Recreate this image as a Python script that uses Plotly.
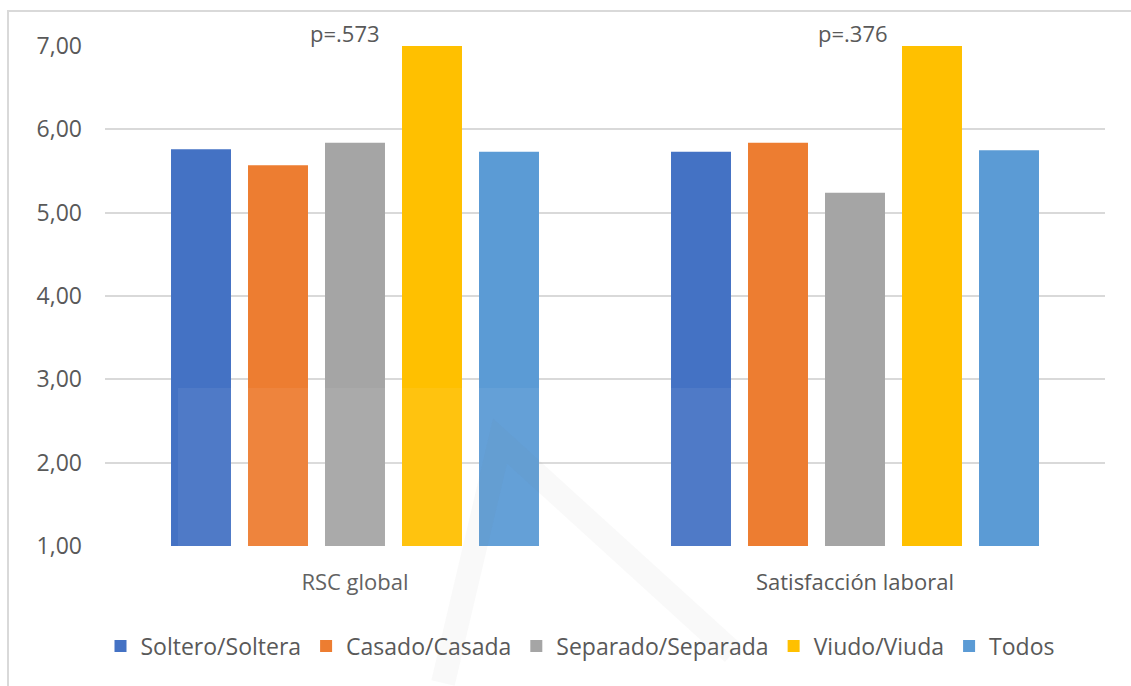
import plotly.graph_objects as go

# Grouped means by marital status for two indicators
categories = ["RSC global", "Satisfacción laboral"]
series_names = ["Soltero/Soltera", "Casado/Casada", "Separado/Separada", "Viudo/Viuda", "Todos"]
soltero = [5.76, 5.73]
casado = [5.57, 5.84]
separado = [5.84, 5.24]
viudo = [7.00, 7.00]
todos = [5.73, 5.75]
p_values = ["p=.573", "p=.376"]
y_ticks = [1, 2, 3, 4, 5, 6, 7]

series_values = [soltero, casado, separado, viudo, todos]
colors = ["#4472C4", "#ED7D31", "#A5A5A5", "#FFC000", "#5B9BD5"]

FONT = "Open Sans, Liberation Sans, sans-serif"
TEXT = "#595959"
GRID = "#D9D9D9"
BASE = 1.0

fig = go.Figure()
for name, vals, col in zip(series_names, series_values, colors):
    fig.add_trace(go.Bar(
        name=name,
        x=categories,
        y=[v - BASE for v in vals],
        base=BASE,
        marker=dict(color=col, line=dict(width=0)),
        hovertemplate="%{x}<br>" + name + ": %{customdata:.2f}<extra></extra>",
        customdata=vals,
    ))

# p-value labels above each group
for cat, ptxt, dx in zip(categories, p_values, [-10, -2]):
    fig.add_annotation(
        x=cat, y=7, xref="x", yref="y", text=ptxt, showarrow=False,
        yanchor="bottom", yshift=-4, xshift=dx,
        font=dict(family=FONT, size=22, color=TEXT),
    )

# Outer chart frame
fig.add_shape(type="rect", xref="paper", yref="paper",
              x0=-0.097, x1=1.04, y0=-0.33, y1=1.07,
              line=dict(color=GRID, width=2), fillcolor="rgba(0,0,0,0)", layer="below")

# Faint logo watermark in the lower area
fig.add_shape(type="rect", xref="paper", yref="paper",
              x0=0.073, x1=0.635, y0=0.316, y1=-0.30,
              line=dict(width=0), fillcolor="rgba(255,255,255,0.06)", layer="above")
fig.add_shape(type="path", xref="paper", yref="paper",
              path="M 0.338,-0.274 L 0.395,0.21 L 0.628,-0.214",
              line=dict(color="rgba(110,110,110,0.045)", width=24), layer="above")

fig.update_layout(
    width=1131, height=686,
    margin=dict(l=105, r=26, t=46, b=140),
    paper_bgcolor="white", plot_bgcolor="white",
    separators=",.",
    barmode="group", bargap=0.23, bargroupgap=0.221,
    font=dict(family=FONT, size=22, color=TEXT),
    showlegend=True,
    legend=dict(orientation="h", x=0.475, xanchor="center", y=-0.2, yanchor="middle",
                font=dict(family=FONT, size=23, color=TEXT), itemwidth=30,
                traceorder="normal", bgcolor="rgba(0,0,0,0)"),
    xaxis=dict(showgrid=False, showline=False, zeroline=False, ticks="",
               ticklabelstandoff=21, tickfont=dict(family=FONT, size=22, color=TEXT)),
    yaxis=dict(range=[1, 7], tickvals=y_ticks, tickformat=".2f",
               showgrid=True, gridcolor=GRID, gridwidth=2, zeroline=False,
               showline=False, ticks="", ticklabelstandoff=22,
               tickfont=dict(family=FONT, size=23, color=TEXT)),
)

fig.write_html("out.html")
